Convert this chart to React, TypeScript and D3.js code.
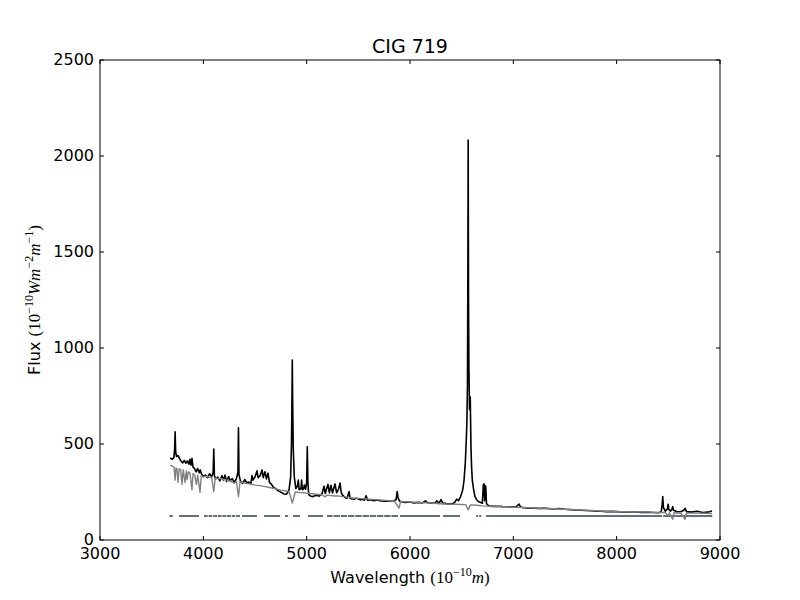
import * as d3 from "d3";

// observed spectrum (black)
const obsWave = [
  3680, 3700, 3715, 3722, 3727, 3732, 3740, 3755, 3770, 3785, 3800, 3815, 3830, 3845, 3860, 3870, 3880, 3890, 3900,
  3915, 3930, 3945, 3960, 3970, 3985, 4000, 4020, 4040, 4060, 4080, 4095, 4101, 4107, 4120, 4140, 4160, 4180, 4195,
  4210, 4225, 4245, 4260, 4280, 4300, 4320, 4335, 4340, 4345, 4360, 4380, 4400, 4420, 4440, 4460, 4471, 4480, 4500,
  4519, 4530, 4550, 4568, 4580, 4597, 4610, 4626, 4640, 4660, 4680, 4700, 4720, 4740, 4760, 4780, 4800, 4815, 4830,
  4845, 4853, 4858, 4861, 4864, 4870, 4880, 4895, 4910, 4919, 4927, 4945, 4951, 4958, 4970, 4977, 4990, 5000, 5006,
  5012, 5020, 5040, 5060, 5080, 5100, 5120, 5148, 5168, 5180, 5206, 5220, 5235, 5250, 5274, 5290, 5310, 5323, 5335,
  5350, 5371, 5390, 5410, 5420, 5440, 5460, 5480, 5500, 5520, 5540, 5560, 5575, 5590, 5620, 5650, 5680, 5720, 5760,
  5800, 5840, 5865, 5876, 5885, 5900, 5930, 5960, 6000, 6040, 6080, 6120, 6150, 6170, 6200, 6240, 6260, 6280, 6300,
  6320, 6340, 6360, 6400, 6430, 6452, 6470, 6490, 6510, 6523, 6535, 6542, 6550, 6556, 6560, 6563, 6566, 6570, 6576,
  6583, 6587, 6590, 6596, 6603, 6615, 6629, 6645, 6661, 6680, 6700, 6710, 6716, 6722, 6727, 6733, 6740, 6760, 6800,
  6850, 6900, 6950, 7000, 7030, 7055, 7070, 7100, 7150, 7200, 7250, 7300, 7350, 7400, 7450, 7500, 7550, 7600, 7650,
  7700, 7750, 7800, 7850, 7900, 7950, 8000, 8050, 8100, 8150, 8200, 8250, 8300, 8350, 8400, 8430, 8440, 8446, 8452,
  8470, 8490, 8498, 8505, 8520, 8535, 8542, 8550, 8580, 8620, 8650, 8662, 8675, 8720, 8780, 8830, 8880, 8923,
];
const obsFlux = [
  427, 420, 430, 470, 564, 460, 435, 440, 425, 410, 402, 415, 400, 412, 395, 420, 390, 425, 380,
  372, 355, 372, 350, 365, 340, 332, 338, 325, 345, 330, 352, 474, 335, 318, 328, 308, 335, 312,
  338, 305, 330, 310, 320, 300, 318, 355, 585, 340, 305, 295, 315, 298, 302, 292, 335, 312, 328,
  360, 325, 335, 365, 325, 356, 318, 348, 300, 290, 272, 268, 258, 252, 246, 240, 238, 245, 262,
  330, 500, 750, 937, 750, 480, 330, 268, 280, 312, 262, 268, 312, 262, 265, 286, 265, 300, 486,
  300, 236, 228, 226, 230, 233, 228, 240, 280, 242, 290, 246, 285, 245, 292, 246, 266, 297, 246,
  232, 222, 216, 252, 218, 214, 212, 218, 213, 209, 212, 207, 231, 207, 210, 205, 208, 203, 202,
  203, 204, 210, 252, 218, 202, 198, 195, 198, 193, 196, 193, 204, 194, 193, 191, 204, 190, 210,
  189, 192, 188, 188, 194, 213, 205, 226, 260, 312, 400, 486, 600, 800, 1400, 2083, 1300, 900, 680,
  745, 600, 486, 380, 312, 265, 226, 210, 200, 196, 192, 290, 292, 205, 283, 280, 190, 178, 175,
  176, 174, 173, 172, 174, 187, 172, 168, 165, 166, 164, 166, 163, 162, 164, 160, 158, 156, 155,
  154, 152, 150, 150, 148, 149, 148, 146, 146, 147, 145, 144, 144, 143, 142, 145, 180, 226, 170,
  150, 160, 186, 160, 150, 160, 174, 155, 148, 147, 155, 165, 148, 145, 150, 143, 145, 151,
];

// fitted stellar model (grey)
const modWave = [
  3680, 3700, 3715, 3722, 3727, 3735, 3745, 3755, 3765, 3780, 3794, 3805, 3823, 3835, 3842, 3855, 3870, 3890, 3900,
  3915, 3933, 3945, 3968, 3980, 3997, 4020, 4050, 4080, 4101, 4115, 4150, 4180, 4200, 4230, 4260, 4300, 4320, 4340,
  4355, 4380, 4420, 4460, 4500, 4550, 4600, 4650, 4700, 4750, 4800, 4830, 4861, 4890, 4920, 4960, 5000, 5050, 5100,
  5150, 5175, 5200, 5270, 5300, 5350, 5400, 5450, 5500, 5600, 5700, 5800, 5850, 5893, 5910, 6000, 6100, 6200, 6300,
  6400, 6500, 6540, 6563, 6585, 6650, 6700, 6800, 6900, 7000, 7100, 7200, 7300, 7400, 7500, 7600, 7700, 7800, 7900,
  8000, 8100, 8200, 8300, 8400, 8470, 8498, 8510, 8542, 8555, 8620, 8662, 8675, 8750, 8850, 8923,
];
const modFlux = [
  390, 385, 380, 345, 312, 375, 372, 300, 370, 368, 290, 365, 300, 360, 315, 355, 350, 262, 345,
  340, 290, 338, 248, 335, 328, 332, 328, 325, 252, 322, 320, 318, 315, 312, 306, 296, 306, 226,
  302, 299, 294, 291, 286, 283, 278, 272, 266, 260, 255, 252, 193, 250, 248, 246, 244, 241, 238,
  236, 225, 234, 229, 230, 226, 222, 219, 217, 213, 209, 205, 203, 166, 201, 198, 195, 192, 189,
  187, 185, 184, 156, 183, 181, 178, 175, 173, 171, 169, 167, 165, 163, 160, 157, 155, 152, 150,
  148, 147, 146, 145, 143, 143, 125, 142, 108, 142, 140, 108, 140, 140, 139, 138,
];

// masked wavelength ranges, drawn at a constant flux level
const maskStart = [
  3671, 3765, 4006, 4050, 4095, 4140, 4185, 4230, 4275, 4318, 4374, 4587, 4790, 4868, 5013, 5197, 5260, 5330,
  5400, 5470, 5540, 5610, 5680, 5750, 5820, 5903, 6319, 6640, 6670, 6735, 8450,
];
const maskEnd = [
  3704, 3958, 4042, 4087, 4132, 4177, 4222, 4267, 4310, 4355, 4519, 4742, 4819, 4935, 5158, 5252, 5322, 5392,
  5462, 5532, 5602, 5672, 5742, 5812, 5884, 6290, 6484, 6660, 6690, 8440, 8925,
];
const maskLevel = 125;

const xTicks = [3000, 4000, 5000, 6000, 7000, 8000, 9000];
const yTicks = [0, 500, 1000, 1500, 2000, 2500];

const W = 800;
const H = 600;
const left = 100;
const right = 720;
const top = 60;
const bottom = 540;

const sans = "DejaVu Sans, sans-serif";
const serif = "Liberation Serif, DejaVu Serif, serif";

export default function App() {
  const x = d3.scaleLinear().domain([3000, 9000]).range([left, right]);
  const y = d3.scaleLinear().domain([0, 2500]).range([bottom, top]);

  const obsPath = d3
    .line<number>()
    .x((d) => x(d))
    .y((_, i) => y(obsFlux[i]))(obsWave);
  const modPath = d3
    .line<number>()
    .x((d) => x(d))
    .y((_, i) => y(modFlux[i]))(modWave);

  const tickLen = 4;

  return (
    <svg width={W} height={H} style={{ display: "block", position: "absolute", left: 0, top: 0 }}>
      <rect x={0} y={0} width={W} height={H} fill="#fff" />
      <defs>
        <clipPath id="plot">
          <rect x={left} y={top} width={right - left} height={bottom - top} />
        </clipPath>
      </defs>
      <g clipPath="url(#plot)">
        {maskStart.map((s, i) => (
          <line
            key={i}
            x1={x(s)}
            x2={x(maskEnd[i])}
            y1={y(maskLevel)}
            y2={y(maskLevel)}
            stroke="#607272"
            strokeWidth={2}
          />
        ))}
        <path d={obsPath || ""} fill="none" stroke="#000" strokeWidth={1.6} strokeLinejoin="round" />
        <path d={modPath || ""} fill="none" stroke="#808080" strokeWidth={1.4} strokeLinejoin="round" />
      </g>

      {/* frame */}
      <rect x={left} y={top} width={right - left} height={bottom - top} fill="none" stroke="#000" strokeWidth={1} />

      {xTicks.map((t) => (
        <g key={t}>
          <line x1={x(t)} x2={x(t)} y1={bottom} y2={bottom - tickLen} stroke="#000" />
          <line x1={x(t)} x2={x(t)} y1={top} y2={top + tickLen} stroke="#000" />
          <text x={x(t)} y={bottom + 19} textAnchor="middle" fontFamily={sans} fontSize={16}>
            {t}
          </text>
        </g>
      ))}
      {yTicks.map((t) => (
        <g key={t}>
          <line x1={left} x2={left + tickLen} y1={y(t)} y2={y(t)} stroke="#000" />
          <line x1={right} x2={right - tickLen} y1={y(t)} y2={y(t)} stroke="#000" />
          <text x={left - 6} y={y(t) + 5} textAnchor="end" fontFamily={sans} fontSize={16}>
            {t}
          </text>
        </g>
      ))}

      <text x={(left + right) / 2} y={53} textAnchor="middle" fontFamily={sans} fontSize={19}>
        CIG 719
      </text>

      <text x={(left + right) / 2} y={583} textAnchor="middle" fontFamily={sans} fontSize={16}>
        Wavelength{" "}
        <tspan fontFamily={serif} fontSize={17}>(10</tspan>
        <tspan fontFamily={serif} fontSize={12} dy={-7}>−10</tspan>
        <tspan fontFamily={serif} fontSize={17} fontStyle="italic" dy={7}>m</tspan>
        <tspan fontFamily={serif} fontSize={17}>)</tspan>
      </text>

      <text
        transform={`translate(40, ${(top + bottom) / 2}) rotate(-90)`}
        textAnchor="middle"
        fontFamily={sans}
        fontSize={16}
      >
        Flux{" "}
        <tspan fontFamily={serif} fontSize={17}>(10</tspan>
        <tspan fontFamily={serif} fontSize={12} dy={-7}>−10</tspan>
        <tspan fontFamily={serif} fontSize={17} fontStyle="italic" dy={7}>Wm</tspan>
        <tspan fontFamily={serif} fontSize={12} dy={-7}>−2</tspan>
        <tspan fontFamily={serif} fontSize={17} fontStyle="italic" dy={7}>m</tspan>
        <tspan fontFamily={serif} fontSize={12} dy={-7}>−1</tspan>
        <tspan fontFamily={serif} fontSize={17} dy={7}>)</tspan>
      </text>
    </svg>
  );
}
